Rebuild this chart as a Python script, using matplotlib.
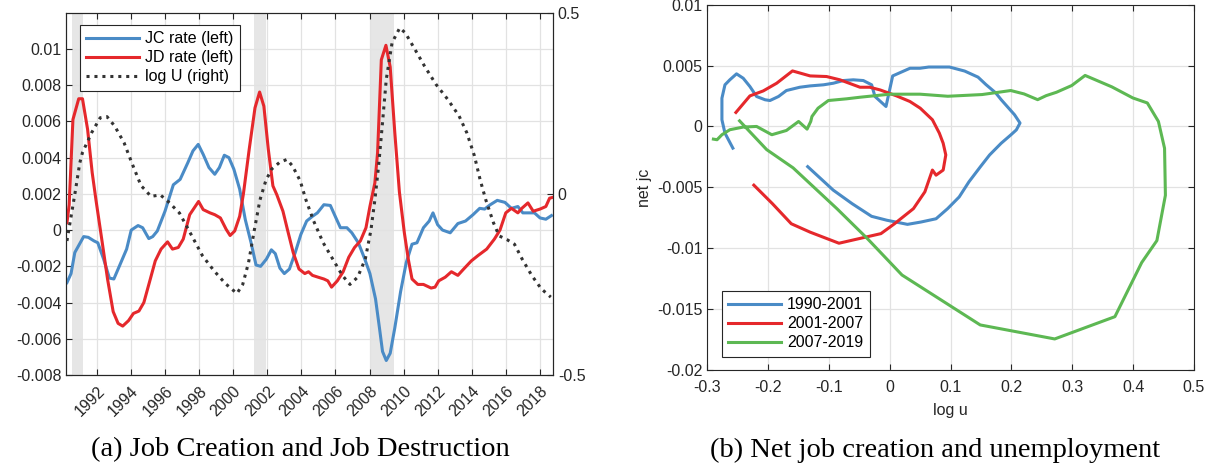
import matplotlib
matplotlib.use('Agg')
import matplotlib.pyplot as plt
import numpy as np

plt.rcParams['font.family'] = ['Liberation Sans', 'DejaVu Sans']
plt.rcParams['font.size'] = 11.5

# ---------------- data: panel (a) ----------------
jc_t = [1990.25, 1990.49, 1990.71, 1991.23, 1991.5, 1991.84, 1992.06, 1992.4, 1992.74, 1993.0,
        1993.41, 1993.75, 1994.02, 1994.42, 1994.69, 1995.05, 1995.28, 1995.55, 1996.0, 1996.49,
        1996.89, 1997.34, 1997.64, 1997.95, 1998.24, 1998.58, 1998.92, 1999.19, 1999.48, 1999.75,
        2000.04, 2000.38, 2000.71, 2001.05, 2001.34, 2001.61, 2001.95, 2002.24, 2002.47, 2002.74,
        2003.0, 2003.3, 2003.64, 2003.97, 2004.31, 2004.65, 2004.94, 2005.32, 2005.7, 2006.0,
        2006.29, 2006.67, 2006.96, 2007.34, 2007.72, 2008.02, 2008.35, 2008.58, 2008.76, 2008.98,
        2009.21, 2009.48, 2009.82, 2010.15, 2010.49, 2010.78, 2011.16, 2011.5, 2011.72, 2011.99,
        2012.28, 2012.73, 2013.18, 2013.63, 2014.07, 2014.46, 2014.75, 2015.08, 2015.49, 2015.94,
        2016.32, 2016.7, 2016.99, 2017.33, 2017.67, 2018.0, 2018.34, 2018.67]
jc_rate = [-0.0029, -0.0024, -0.00124, -0.00036, -0.0004, -0.0006, -0.0007, -0.0016, -0.00265, -0.0027,
           -0.0018, -0.00105, 0.0, 0.00025, 0.00013, -0.00047, -0.00036, -0.00005, 0.00104, 0.0025,
           0.0028, 0.00372, 0.00437, 0.00473, 0.00418, 0.00345, 0.00308, 0.00345, 0.00413, 0.004,
           0.00336, 0.00226, 0.00058, -0.0007, -0.00193, -0.002, -0.0016, -0.00109, -0.0013, -0.0021,
           -0.0024, -0.00215, -0.00124, -0.00024, 0.0005, 0.00076, 0.00095, 0.0014, 0.00136, 0.00073,
           0.00013, 0.00013, -0.00015, -0.0007, -0.0016, -0.0024, -0.0038, -0.0054, -0.0067, -0.0072,
           -0.0068, -0.0054, -0.0034, -0.0018, -0.00078, -0.0007, 0.00013, 0.0005, 0.00095, 0.0003,
           0.0, -0.00015, 0.00036, 0.0005, 0.00085, 0.0012, 0.00116, 0.0014, 0.00164, 0.00153,
           0.0012, 0.0013, 0.00095, 0.00095, 0.00095, 0.00067, 0.0006, 0.0008]

jd_t = [1990.25, 1990.38, 1990.6, 1990.94, 1991.16, 1991.46, 1991.73, 1991.95, 1992.29, 1992.63,
        1992.96, 1993.25, 1993.52, 1993.86, 1994.15, 1994.47, 1994.76, 1995.14, 1995.43, 1995.77,
        1996.15, 1996.44, 1996.78, 1997.07, 1997.45, 1997.97, 1998.24, 1998.64, 1998.92, 1999.25,
        1999.59, 1999.82, 2000.09, 2000.38, 2000.6, 2000.94, 2001.28, 2001.55, 2001.8, 2002.06,
        2002.33, 2002.56, 2002.92, 2003.19, 2003.52, 2003.86, 2004.2, 2004.42, 2004.65, 2004.98,
        2005.32, 2005.55, 2005.77, 2006.11, 2006.45, 2006.78, 2007.12, 2007.46, 2007.79, 2008.02,
        2008.31, 2008.47, 2008.69, 2008.96, 2009.21, 2009.48, 2009.75, 2010.04, 2010.27, 2010.49,
        2010.83, 2011.16, 2011.61, 2011.84, 2012.06, 2012.44, 2012.8, 2013.18, 2013.52, 2013.97,
        2014.37, 2014.87, 2015.32, 2015.65, 2015.99, 2016.32, 2016.7, 2016.93, 2017.29, 2017.6,
        2018.0, 2018.34, 2018.56, 2018.72]
jd_rate = [0.0004, 0.0014, 0.0061, 0.00725, 0.00725, 0.00556, 0.00317, 0.00167, -0.0005, -0.0027,
           -0.0045, -0.00515, -0.0053, -0.005, -0.0046, -0.00447, -0.004, -0.0027, -0.0017, -0.00105,
           -0.00065, -0.00105, -0.00096, -0.0005, 0.00085, 0.00158, 0.00113, 0.00095, 0.00085, 0.00067,
           0.00004, -0.0003, -0.00005, 0.00076, 0.002, 0.00446, 0.00675, 0.00762, 0.00684, 0.00446,
           0.00244, 0.00195, 0.00104, 0.0, -0.00124, -0.00215, -0.0024, -0.0023, -0.0025, -0.0026,
           -0.0027, -0.0028, -0.00315, -0.0028, -0.0023, -0.0015, -0.00096, -0.0006, 0.00013, 0.0013,
           0.0026, 0.00427, 0.0094, 0.0102, 0.009, 0.00538, 0.0021, -0.00015, -0.0016, -0.0027,
           -0.003, -0.003, -0.0032, -0.00315, -0.0028, -0.0026, -0.0023, -0.0025, -0.00215, -0.0017,
           -0.0014, -0.00105, -0.0005, 0.0, 0.00095, 0.0012, 0.00095, 0.0012, 0.0015, 0.00104,
           0.00116, 0.0013, 0.00176, 0.0018]

lu_t = [1990.25, 1990.5, 1990.75, 1991.0, 1991.16, 1991.7, 1992.2, 1992.6, 1993.05, 1993.6,
        1994.05, 1994.6, 1994.84, 1995.17, 1995.73, 1996.18, 1996.85, 1997.53, 1998.2, 1998.87,
        1999.55, 2000.22, 2000.56, 2000.9, 2001.24, 2001.57, 2001.91, 2002.25, 2002.7, 2003.15,
        2003.48, 2003.93, 2004.27, 2004.72, 2005.28, 2005.84, 2006.4, 2006.85, 2007.3, 2007.75,
        2008.08, 2008.31, 2008.53, 2008.76, 2008.98, 2009.32, 2009.77, 2010.1, 2010.67, 2011.23,
        2011.9, 2012.58, 2013.25, 2013.7, 2014.15, 2014.48, 2014.82, 2015.27, 2015.6, 2016.05,
        2016.5, 2016.95, 2017.51, 2018.07, 2018.63]
log_u = [-0.13, -0.06, 0.01, 0.085, 0.114, 0.169, 0.21, 0.213, 0.187, 0.141,
         0.086, 0.022, 0.011, -0.007, -0.003, -0.021, -0.053, -0.112, -0.171, -0.212,
         -0.248, -0.275, -0.25, -0.19, -0.10, -0.017, 0.036, 0.068, 0.086, 0.095,
         0.077, 0.036, -0.017, -0.075, -0.135, -0.18, -0.225, -0.25, -0.23, -0.18,
         -0.10, -0.017, 0.077, 0.197, 0.316, 0.417, 0.458, 0.444, 0.398, 0.352,
         0.302, 0.261, 0.215, 0.169, 0.105, 0.04, -0.017, -0.08, -0.116, -0.126,
         -0.139, -0.18, -0.225, -0.262, -0.285]

rec_start = [1990.53, 2001.21, 2008.0]
rec_end = [1991.19, 2001.95, 2009.46]

year_ticks = [1992, 1994, 1996, 1998, 2000, 2002, 2004, 2006, 2008, 2010, 2012, 2014, 2016, 2018]
left_ticks = [-0.008, -0.006, -0.004, -0.002, 0, 0.002, 0.004, 0.006, 0.008, 0.01]
left_labels = ['-0.008', '-0.006', '-0.004', '-0.002', '0', '0.002', '0.004', '0.006', '0.008', '0.01']
right_ticks = [-0.5, 0, 0.5]
right_labels = ['-0.5', '0', '0.5']

# ---------------- data: panel (b) ----------------
u_9001 = [-0.135, -0.093, -0.062, -0.030, -0.005, 0.029, 0.051, 0.076, 0.095, 0.114,
          0.13, 0.149, 0.164, 0.183, 0.199, 0.208, 0.214, 0.205, 0.183, 0.174,
          0.158, 0.145, 0.123, 0.098, 0.064, 0.0496, 0.0332, 0.0047, -0.0063, -0.0244,
          -0.0299, -0.0436, -0.06, -0.0764, -0.0929, -0.109, -0.131, -0.148, -0.17, -0.183,
          -0.197, -0.205, -0.219, -0.23, -0.241, -0.252, -0.263, -0.271, -0.276, -0.276,
          -0.271, -0.258]
jc_9001 = [-0.0033, -0.00523, -0.00634, -0.00738, -0.0077, -0.00804, -0.00785, -0.00758, -0.00675, -0.00579,
           -0.00455, -0.0033, -0.00234, -0.00138, -0.00069, -0.00028, 0.00028, 0.00096, 0.0022, 0.00276,
           0.00344, 0.00405, 0.00455, 0.00488, 0.00488, 0.00478, 0.00478, 0.00415, 0.00164, 0.00246,
           0.00342, 0.00377, 0.00383, 0.00377, 0.00355, 0.00342, 0.00333, 0.00322, 0.00295, 0.00246,
           0.00213, 0.00219, 0.00246, 0.00328, 0.00396, 0.00432, 0.00383, 0.00342, 0.00232, 0.00055,
           -0.00055, -0.00178]

u_0107 = [-0.2235, -0.193, -0.162, -0.131, -0.0836, -0.0146, 0.0074, 0.0388, 0.0576, 0.07,
          0.076, 0.0877, 0.092, 0.0877, 0.0814, 0.07, 0.05, 0.033, 0.011, -0.016,
          -0.033, -0.049, -0.082, -0.104, -0.131, -0.16, -0.186, -0.208, -0.23, -0.253]
jc_0107 = [-0.00482, -0.00634, -0.00799, -0.00868, -0.00959, -0.0088, -0.008, -0.00675, -0.00537, -0.00358,
           -0.004, -0.00358, -0.00234, -0.00138, -0.00055, 0.00055, 0.0015, 0.00205, 0.00251, 0.003,
           0.00322, 0.00322, 0.00383, 0.0041, 0.00415, 0.00456, 0.00355, 0.00292, 0.00251, 0.00115]

u_0719 = [-0.247, -0.2025, -0.159, -0.087, -0.0365, 0.02, 0.1486, 0.271, 0.37, 0.414,
          0.439, 0.453, 0.4516, 0.4415, 0.4233, 0.3995, 0.365, 0.321, 0.299, 0.274,
          0.257, 0.243, 0.2207, 0.1988, 0.1517, 0.0953, 0.0496, 0.0, -0.049, -0.071,
          -0.101, -0.118, -0.128, -0.13, -0.136, -0.142, -0.15, -0.17, -0.194, -0.219,
          -0.241, -0.263, -0.276, -0.284, -0.29]
jc_0719 = [0.00046, -0.0019, -0.0034, -0.00675, -0.00923, -0.0122, -0.0163, -0.01745, -0.01562, -0.01118,
           -0.00937, -0.00565, -0.00179, 0.00041, 0.00193, 0.00234, 0.00325, 0.00419, 0.00336, 0.00281,
           0.00253, 0.0022, 0.00267, 0.00295, 0.00262, 0.00248, 0.00265, 0.00265, 0.0024, 0.00227,
           0.00213, 0.0015, 0.00082, 0.00041, -0.00022, 0.00005, 0.00041, -0.00033, -0.00068, 0.0,
           -0.00005, -0.00027, -0.00068, -0.00109, -0.00104]

b_xticks = [-0.3, -0.2, -0.1, 0, 0.1, 0.2, 0.3, 0.4, 0.5]
b_xlabels = ['-0.3', '-0.2', '-0.1', '0', '0.1', '0.2', '0.3', '0.4', '0.5']
b_yticks = [-0.02, -0.015, -0.01, -0.005, 0, 0.005, 0.01]
b_ylabels = ['-0.02', '-0.015', '-0.01', '-0.005', '0', '0.005', '0.01']

# ---------------- style ----------------
BLUE = '#4A8BC6'
RED = '#E5282C'
GREEN = '#5DB853'
DARK = '#333333'
AXC = '#262626'
GRID = '#e2e2e2'
LW = 2.2

fig = plt.figure(figsize=(12.17, 4.68), dpi=100)

# ---------------- panel (a) ----------------
ax1 = fig.add_axes([0.0546, 0.1987, 0.3998, 0.7742])
for s, e in zip(rec_start, rec_end):
    ax1.axvspan(s, e, color='#e6e6e6', lw=0, zorder=0)
ax1.set_axisbelow(True)
ax1.grid(True, color=GRID, lw=0.9)
l1, = ax1.plot(jc_t, jc_rate, color=BLUE, lw=LW, solid_joinstyle='round', label='JC rate (left)', zorder=3)
l2, = ax1.plot(jd_t, jd_rate, color=RED, lw=LW, solid_joinstyle='round', label='JD rate (left)', zorder=3)
ax1.set_xlim(1990.22, 2018.76)
ax1.set_ylim(-0.008, 0.012)
ax1.set_xticks(year_ticks)
ax1.set_xticklabels([str(y) for y in year_ticks], rotation=45, ha='right', rotation_mode='anchor')
ax1.set_yticks(left_ticks)
ax1.set_yticklabels(left_labels)
ax1.tick_params(direction='in', length=4, width=0.8, top=True, right=False, colors=AXC, labelsize=11.5)
ax1.tick_params(axis='x', pad=6)
for sp in ax1.spines.values():
    sp.set_color(AXC)
    sp.set_linewidth(0.8)

ax2 = ax1.twinx()
l3, = ax2.plot(lu_t, log_u, color=DARK, lw=LW, linestyle=(0, (1, 1.6)), label='log U (right)', zorder=3)
ax2.set_ylim(-0.5, 0.5)
ax2.set_yticks(right_ticks)
ax2.set_yticklabels(right_labels)
ax2.tick_params(direction='in', length=4, width=0.8, colors=AXC, labelsize=11.5)
for sp in ax2.spines.values():
    sp.set_color(AXC)
    sp.set_linewidth(0.8)

leg = ax2.legend(handles=[l1, l2, l3], loc='upper left', bbox_to_anchor=(0.0277, 0.966),
                 borderaxespad=0, fancybox=False, framealpha=1, edgecolor=AXC,
                 handlelength=3.3, handletextpad=0.4, labelspacing=0.25, borderpad=0.4,
                 fontsize=11.5)
leg.get_frame().set_linewidth(0.8)

# ---------------- panel (b) ----------------
ax3 = fig.add_axes([0.5812, 0.2094, 0.3999, 0.7806])
ax3.set_axisbelow(True)
ax3.grid(True, color=GRID, lw=0.9)
ax3.plot(u_9001, jc_9001, color=BLUE, lw=LW, solid_joinstyle='round', label='1990-2001')
ax3.plot(u_0107, jc_0107, color=RED, lw=LW, solid_joinstyle='round', label='2001-2007')
ax3.plot(u_0719, jc_0719, color=GREEN, lw=LW, solid_joinstyle='round', label='2007-2019')
ax3.set_xlim(-0.3, 0.5)
ax3.set_ylim(-0.02, 0.01)
ax3.set_xticks(b_xticks)
ax3.set_xticklabels(b_xlabels)
ax3.set_yticks(b_yticks)
ax3.set_yticklabels(b_ylabels)
ax3.tick_params(direction='in', length=4, width=0.8, top=True, right=True, colors=AXC, labelsize=11.5)
ax3.tick_params(axis='x', pad=7)
for sp in ax3.spines.values():
    sp.set_color(AXC)
    sp.set_linewidth(0.8)
ax3.set_xlabel('log u', fontsize=11.5, color=AXC, labelpad=6)
ax3.set_ylabel('net jc', fontsize=11.5, color=AXC, labelpad=4)
leg2 = ax3.legend(loc='lower left', bbox_to_anchor=(0.0296, 0.0364), borderaxespad=0,
                  fancybox=False, framealpha=1, edgecolor=AXC, handlelength=3.3,
                  handletextpad=0.4, labelspacing=0.25, borderpad=0.4, fontsize=11.5)
leg2.get_frame().set_linewidth(0.8)

# ---------------- captions ----------------
fig.text(300 / 1217, 1 - 450 / 468, '(a) Job Creation and Job Destruction',
         family=['Liberation Serif', 'DejaVu Serif'], fontsize=20.5, ha='center', va='center')
fig.text(935 / 1217, 1 - 450 / 468, '(b) Net job creation and unemployment',
         family=['Liberation Serif', 'DejaVu Serif'], fontsize=20.5, ha='center', va='center')

fig.savefig('out.png', dpi=100)
